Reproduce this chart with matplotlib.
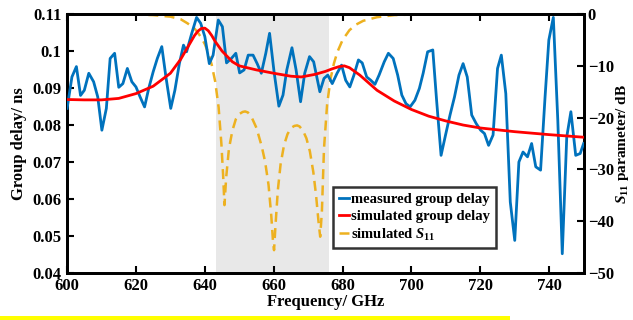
import matplotlib.pyplot as plt
from matplotlib.patches import Rectangle

plt.rcParams['font.family'] = ['Liberation Serif', 'DejaVu Serif']
plt.rcParams['font.weight'] = 'bold'
plt.rcParams['mathtext.fontset'] = 'custom'
plt.rcParams['mathtext.it'] = 'Liberation Serif:italic:bold'
plt.rcParams['mathtext.rm'] = 'Liberation Serif:bold'

# measured group delay (ns)
meas_freq = [600.0, 601.4, 602.7, 603.9, 605.0, 606.3, 607.7, 608.9, 610.1, 611.4,
             612.5, 613.8, 615.0, 616.2, 617.5, 618.8, 620.0, 621.2, 622.5, 623.7,
             625.0, 626.2, 627.5, 628.7, 630.1, 631.3, 632.6, 633.8, 634.7, 636.2,
             637.6, 638.8, 640.0, 641.3, 642.4, 643.9, 645.1, 646.3, 647.7, 649.0,
             650.1, 651.4, 652.6, 654.0, 655.2, 656.4, 657.7, 658.8, 660.1, 661.5,
             662.7, 663.8, 665.3, 666.5, 667.8, 669.0, 670.4, 671.6, 673.4, 674.6,
             675.7, 677.0, 678.4, 679.7, 680.9, 682.1, 683.3, 684.6, 685.7, 687.0,
             688.2, 689.4, 690.6, 692.1, 693.3, 694.7, 696.0, 697.2, 698.4, 699.6,
             701.0, 702.3, 703.4, 704.7, 706.2, 707.3, 708.6, 709.9, 711.2, 712.5,
             713.8, 715.0, 716.2, 717.5, 718.8, 720.1, 721.2, 722.4, 723.7, 725.0,
             726.1, 727.4, 728.7, 730.0, 731.2, 732.4, 733.7, 734.9, 736.1, 737.5,
             738.8, 739.9, 741.2, 742.5, 743.8, 745.1, 746.3, 747.7, 749.0, 750.0]
meas_delay = [0.0845, 0.0930, 0.0958, 0.0880, 0.0894, 0.0940, 0.0917, 0.0876, 0.0786, 0.0845,
              0.0980, 0.0994, 0.0902, 0.0912, 0.0953, 0.0917, 0.0903, 0.0876, 0.0849, 0.0899,
              0.0944, 0.0980, 0.1012, 0.0930, 0.0845, 0.0894, 0.0966, 0.1016, 0.0998, 0.1048,
              0.1091, 0.1075, 0.1039, 0.0966, 0.0989, 0.1084, 0.1066, 0.0968, 0.0980, 0.0994,
              0.0941, 0.0949, 0.0989, 0.0989, 0.0966, 0.0940, 0.0994, 0.1048, 0.0944, 0.0851,
              0.0881, 0.0949, 0.1009, 0.0949, 0.0863, 0.0940, 0.0985, 0.0971, 0.0890, 0.0926,
              0.0935, 0.0912, 0.0940, 0.0962, 0.0921, 0.0903, 0.0935, 0.0976, 0.0968, 0.0930,
              0.0921, 0.0910, 0.0935, 0.0971, 0.0994, 0.0980, 0.0935, 0.0881, 0.0858, 0.0849,
              0.0867, 0.0899, 0.0940, 0.0998, 0.1003, 0.0867, 0.0718, 0.0773, 0.0827, 0.0876,
              0.0935, 0.0966, 0.0930, 0.0827, 0.0804, 0.0786, 0.0777, 0.0745, 0.0773, 0.0953,
              0.0989, 0.0885, 0.0592, 0.0488, 0.0700, 0.0727, 0.0714, 0.0750, 0.0687, 0.0678,
              0.0876, 0.1030, 0.1091, 0.0813, 0.0452, 0.0768, 0.0836, 0.0718, 0.0723, 0.0750]

# simulated group delay (ns)
sim_freq = [600, 605, 610, 615, 620, 625, 630, 633, 635, 637, 638, 639, 640, 641, 642,
            643, 645, 648, 650, 655, 660, 665, 668, 672, 675, 677, 679, 680.5, 682,
            685, 690, 695, 700, 705, 710, 715, 720, 730, 740, 750]
sim_delay = [0.0869, 0.0868, 0.0868, 0.0872, 0.0885, 0.0905, 0.0940, 0.0978, 0.1010, 0.1042,
             0.1054, 0.1061, 0.1062, 0.1055, 0.1042, 0.1026, 0.1000, 0.0971, 0.0960, 0.0949,
             0.0940, 0.0932, 0.0930, 0.0937, 0.0945, 0.0952, 0.0958, 0.0960, 0.0955,
             0.0935, 0.0894, 0.0865, 0.0842, 0.0824, 0.0811, 0.0800, 0.0792, 0.0782, 0.0774, 0.0767]

# simulated S11 (dB)
s11_freq = [600, 610, 620, 625, 630, 633, 635, 637, 638, 639, 640, 641, 642, 643, 644,
            644.8, 645.3, 645.7, 646.2, 647, 648, 649, 650, 651, 651.7, 652.5, 653.5, 655,
            656.5, 657.5, 658.5, 659.3, 659.8, 660.1, 660.5, 661.2, 662, 663, 664, 665,
            666, 666.8, 667.5, 668.5, 669.5, 670.5, 671.5, 672.3, 673.0, 673.5, 674.0,
            674.6, 675.5, 676.5, 677.5, 678.5, 680, 682, 684, 686, 690, 695, 700, 710, 720, 750]
s11_db = [0.0, 0.0, -0.1, -0.2, -0.5, -1.0, -1.8, -2.8, -3.6, -4.6, -5.8, -7.5, -9.8, -13.0, -18.0,
          -25.0, -31.0, -36.9, -31.5, -26.0, -22.5, -20.3, -19.3, -18.9, -18.8, -19.0, -19.8, -22.0,
          -25.5, -28.5, -33.0, -39.0, -44.0, -45.6, -41.0, -34.0, -29.0, -25.3, -23.2, -22.0,
          -21.6, -21.5, -21.7, -22.5, -24.0, -26.5, -30.5, -35.0, -40.0, -43.0, -38.0,
          -26.0, -17.5, -12.5, -9.5, -7.3, -5.0, -3.1, -2.0, -1.3, -0.6, -0.2, -0.1, 0.0, 0.0, 0.0]

band_lo, band_hi = 643.3, 676.0
x_ticks = [600, 620, 640, 660, 680, 700, 720, 740]
left_ticks = [0.04, 0.05, 0.06, 0.07, 0.08, 0.09, 0.1, 0.11]
left_labels = ['0.04', '0.05', '0.06', '0.07', '0.08', '0.09', '0.1', '0.11']
right_ticks = [0, -10, -20, -30, -40, -50]

fig = plt.figure(figsize=(6.33, 3.2), dpi=100)
ax = fig.add_axes([0.106, 0.147, 0.816, 0.809])
ax2 = ax.twinx()

# shaded band and S11 sit on the twin axes, below the group-delay curves
ax2.axvspan(band_lo, band_hi, color='#e8e8e8', lw=0, zorder=0)
l3, = ax2.plot(s11_freq, s11_db, color='#edb120', lw=1.8, ls=(0, (4, 2.5)), zorder=2)
l1, = ax.plot(meas_freq, meas_delay, color='#0072bd', lw=2, zorder=3)
l2, = ax.plot(sim_freq, sim_delay, color='#ff0000', lw=2, zorder=4)

ax.set_zorder(ax2.get_zorder() + 1)
ax.patch.set_visible(False)

ax.set_xlim(600, 750)
ax.set_ylim(0.04, 0.11)
ax2.set_ylim(-50, 0)

ax.set_xticks(x_ticks)
ax.set_yticks(left_ticks)
ax.set_yticklabels(left_labels)
ax2.set_yticks(right_ticks)

for a in (ax, ax2):
    for s in a.spines.values():
        s.set_linewidth(2)
ax.tick_params(axis='both', direction='in', length=5, width=1.5, labelsize=12, top=True)
ax.tick_params(axis='y', pad=4)
ax2.tick_params(axis='y', direction='in', length=5, width=1.5, labelsize=12, pad=3)

ax.set_xlabel('Frequency/ GHz', fontsize=12, fontweight='bold', labelpad=0)
ax.set_ylabel('Group delay/ ns', fontsize=12, fontweight='bold', labelpad=4)
ax2.set_ylabel(r'$S_{11}$ parameter/ dB', fontsize=11, fontweight='bold', labelpad=0)

leg = ax.legend([l1, l2, l3],
                ['measured group delay', 'simulated group delay', r'simulated $S_{11}$'],
                loc='lower right', bbox_to_anchor=(0.83, 0.095), fontsize=10.5,
                frameon=True, fancybox=False, handlelength=0.7, handletextpad=0.15,
                borderpad=0.4, labelspacing=0.25, borderaxespad=0)
leg.get_frame().set_edgecolor('black')
leg.get_frame().set_linewidth(1.8)
for t in leg.get_texts():
    t.set_fontweight('bold')

fig.patches.append(Rectangle((0, 0), 510 / 633, 4 / 320, transform=fig.transFigure,
                             color='#ffff00', lw=0))

fig.savefig('out.png', dpi=100)
